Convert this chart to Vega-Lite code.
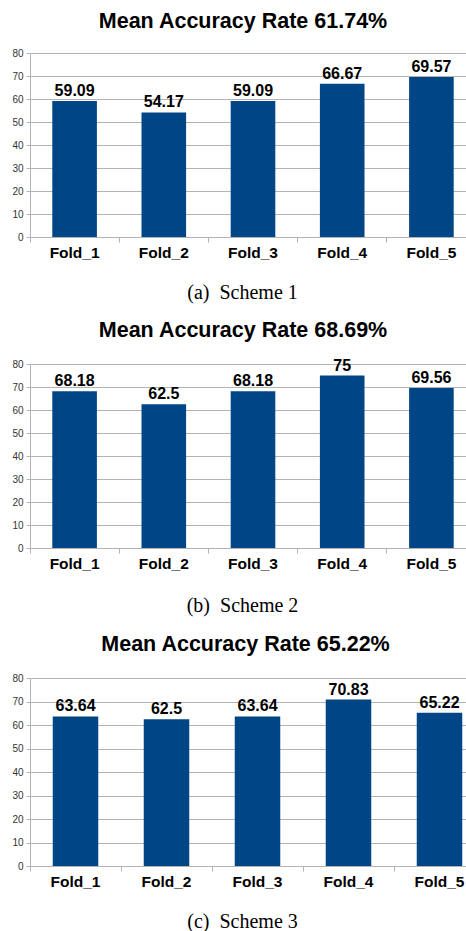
{
  "$schema": "https://vega.github.io/schema/vega-lite/v6.json",
  "padding": {"left": 11, "top": 10, "right": 0, "bottom": 0},
  "background": "white",
  "spacing": 17,
  "datasets": {
    "folds": [
      {"scheme": "a", "fold": "Fold_1", "value": 59.09},
      {"scheme": "a", "fold": "Fold_2", "value": 54.17},
      {"scheme": "a", "fold": "Fold_3", "value": 59.09},
      {"scheme": "a", "fold": "Fold_4", "value": 66.67},
      {"scheme": "a", "fold": "Fold_5", "value": 69.57},
      {"scheme": "b", "fold": "Fold_1", "value": 68.18},
      {"scheme": "b", "fold": "Fold_2", "value": 62.5},
      {"scheme": "b", "fold": "Fold_3", "value": 68.18},
      {"scheme": "b", "fold": "Fold_4", "value": 75},
      {"scheme": "b", "fold": "Fold_5", "value": 69.56},
      {"scheme": "c", "fold": "Fold_1", "value": 63.64},
      {"scheme": "c", "fold": "Fold_2", "value": 62.5},
      {"scheme": "c", "fold": "Fold_3", "value": 63.64},
      {"scheme": "c", "fold": "Fold_4", "value": 70.83},
      {"scheme": "c", "fold": "Fold_5", "value": 65.22}
    ]
  },
  "config": {
    "view": {"stroke": null},
    "font": "Liberation Sans",
    "title": {"fontSize": 21.5, "fontWeight": "bold", "color": "#000000", "offset": 16, "anchor": "middle", "font": "Liberation Sans"},
    "axisX": {
      "labelAngle": 0, "bandPosition": 0, "domain": false, "grid": false,
      "tickColor": "#b3b3b3", "tickSize": 5, "labelFontSize": 15.5, "labelFontWeight": "bold",
      "labelColor": "#000000", "labelPadding": 3, "labelFont": "Liberation Sans",
      "titleFont": "Liberation Serif", "titleFontSize": 20, "titleFontWeight": "normal",
      "titleColor": "#000000", "titlePadding": 22, "titleX": 212
    },
    "axisY": {
      "domain": true, "domainColor": "#b3b3b3", "gridColor": "#b3b3b3", "tickColor": "#b3b3b3",
      "tickSize": 4, "labelFontSize": 10, "labelColor": "#333333", "labelPadding": 3, "title": null,
      "labelOverlap": false
    }
  },
  "vconcat": [
    {
      "width": 436, "height": 184,
      "title": {"text": "Mean Accuracy Rate 61.74%", "dx": -5},
      "data": {"name": "folds"},
      "transform": [{"filter": "datum.scheme == 'a'"}],
      "encoding": {
        "x": {"field": "fold", "type": "nominal", "sort": null,
              "scale": {"range": [0, 446], "paddingInner": 0, "paddingOuter": 0},
              "axis": {"title": "(a)\u00a0\u00a0Scheme 1"}},
        "y": {"field": "value", "type": "quantitative", "scale": {"domain": [0, 80]},
              "axis": {"values": [0, 10, 20, 30, 40, 50, 60, 70, 80]}}
      },
      "layer": [
        {"mark": {"type": "bar", "color": "#004586", "width": {"band": 0.5}}},
        {"mark": {"type": "text", "baseline": "alphabetic", "dy": -5, "fontSize": 16, "fontWeight": "bold", "color": "#000000"},
         "encoding": {"text": {"field": "value", "type": "nominal"}}}
      ]
    },
    {
      "width": 436, "height": 184,
      "title": {"text": "Mean Accuracy Rate 68.69%", "dx": -5},
      "data": {"name": "folds"},
      "transform": [{"filter": "datum.scheme == 'b'"}],
      "encoding": {
        "x": {"field": "fold", "type": "nominal", "sort": null,
              "scale": {"range": [0, 446], "paddingInner": 0, "paddingOuter": 0},
              "axis": {"title": "(b)\u00a0\u00a0Scheme 2", "titlePadding": 24}},
        "y": {"field": "value", "type": "quantitative", "scale": {"domain": [0, 80]},
              "axis": {"values": [0, 10, 20, 30, 40, 50, 60, 70, 80]}}
      },
      "layer": [
        {"mark": {"type": "bar", "color": "#004586", "width": {"band": 0.5}}},
        {"mark": {"type": "text", "baseline": "alphabetic", "dy": -5, "fontSize": 16, "fontWeight": "bold", "color": "#000000"},
         "encoding": {"text": {"field": "value", "type": "nominal"}}}
      ]
    },
    {
      "width": 436, "height": 188,
      "title": {"text": "Mean Accuracy Rate 65.22%", "dx": -2.5, "offset": 18},
      "data": {"name": "folds"},
      "transform": [{"filter": "datum.scheme == 'c'"}],
      "encoding": {
        "x": {"field": "fold", "type": "nominal", "sort": null,
              "scale": {"range": [0, 455], "paddingInner": 0, "paddingOuter": 0},
              "axis": {"title": "(c)\u00a0\u00a0Scheme 3"}},
        "y": {"field": "value", "type": "quantitative", "scale": {"domain": [0, 80]},
              "axis": {"values": [0, 10, 20, 30, 40, 50, 60, 70, 80]}}
      },
      "layer": [
        {"mark": {"type": "bar", "color": "#004586", "width": {"band": 0.5}}},
        {"mark": {"type": "text", "baseline": "alphabetic", "dy": -5, "fontSize": 16, "fontWeight": "bold", "color": "#000000"},
         "encoding": {"text": {"field": "value", "type": "nominal"}}}
      ]
    }
  ]
}
